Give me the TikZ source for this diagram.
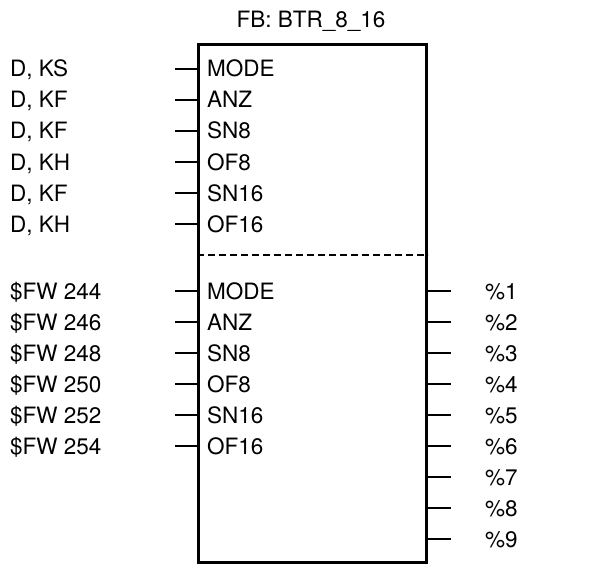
\documentclass[tikz,border=0pt]{standalone}
\usepackage{fontspec}
\setmainfont{TeX Gyre Heros}
\begin{document}
\begin{tikzpicture}[x=1pt,y=-1pt,
  lbl/.style={font=\fontsize{22.5}{27}\selectfont, inner sep=0pt, anchor=base west},
  stub/.style={line width=2pt},
  fbbox/.style={draw, line width=3pt, inner sep=0pt, minimum width=228pt, minimum height=518pt, anchor=north west}]
\useasboundingbox (0,0) rectangle (596,564);
\node[fbbox] (fb) at (197,43) {};
\node[lbl, anchor=base] (title) at (311,28) {FB: BTR\_8\_16};
\draw[line width=2pt, dash pattern=on 7pt off 4pt] (fb.west |- 0,255) coordinate (dl) -- (fb.east |- 0,255) coordinate (dr);
% upper inputs
\foreach \a/\p [count=\i from 0] in {{D, KS}/MODE,{D, KF}/ANZ,{D, KF}/SN8,{D, KH}/OF8,{D, KF}/SN16,{D, KH}/OF16}{
  \pgfmathsetmacro{\yy}{69+31*\i}
  \node[lbl] (ua\i) at (10,\yy+8) {\a};
  \node[lbl] (up\i) at (207,\yy+8) {\p};
  \coordinate (us\i) at (175,\yy);
  \draw[stub] (us\i) -- (fb.west |- us\i);
}
% lower inputs
\foreach \a/\p [count=\i from 0] in {{\$FW 244}/MODE,{\$FW 246}/ANZ,{\$FW 248}/SN8,{\$FW 250}/OF8,{\$FW 252}/SN16,{\$FW 254}/OF16}{
  \pgfmathsetmacro{\yy}{291+31*\i}
  \node[lbl] (la\i) at (10,\yy+8) {\a};
  \node[lbl] (lp\i) at (207,\yy+8) {\p};
  \coordinate (ls\i) at (175,\yy);
  \draw[stub] (ls\i) -- (fb.west |- ls\i);
}
% outputs
\foreach \i in {1,...,9}{
  \pgfmathsetmacro{\yy}{291+31*(\i-1)}
  \node[lbl] (o\i) at (485,\yy+8) {\%\i};
  \coordinate (os\i) at (451,\yy);
  \draw[stub] (fb.east |- os\i) -- (os\i);
}
\end{tikzpicture}
\end{document}
